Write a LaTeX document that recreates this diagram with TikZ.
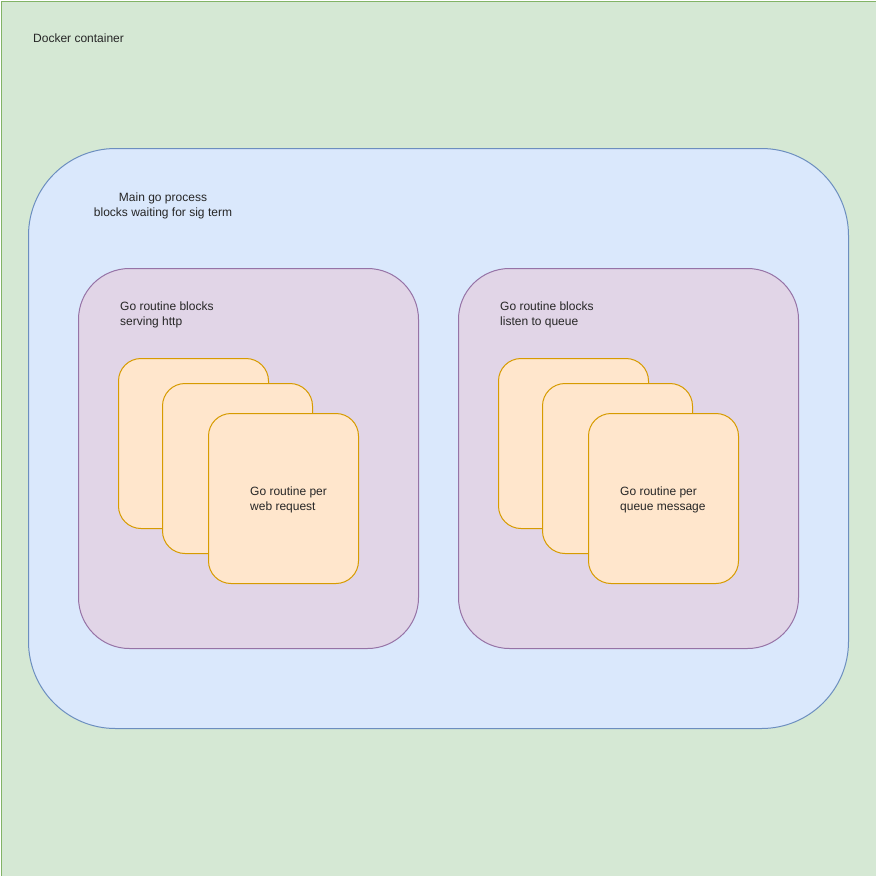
\documentclass[tikz,border=0pt]{standalone}
\usepackage{fontspec}
\setmainfont{Liberation Sans}
\definecolor{dockerfill}{HTML}{D5E8D4}
\definecolor{dockerline}{HTML}{82B366}
\definecolor{mainfill}{HTML}{DAE8FC}
\definecolor{mainline}{HTML}{6C8EBF}
\definecolor{blockfill}{HTML}{E1D5E7}
\definecolor{blockline}{HTML}{9673A6}
\definecolor{routinefill}{HTML}{FFE6CC}
\definecolor{routineline}{HTML}{D79B00}
\begin{document}
\begin{tikzpicture}[x=1pt,y=-1pt,
    box/.style={rectangle,draw,line width=1pt,inner sep=0pt,anchor=north west},
    blockbox/.style={box,fill=blockfill,draw=blockline,minimum width=340,minimum height=380,rounded corners=51},
    routinebox/.style={box,fill=routinefill,draw=routineline,minimum width=150,minimum height=170,rounded corners=22.5},
    label/.style={inner sep=0pt,anchor=north west,align=left,text=black!85,font=\fontsize{12}{14.5}\selectfont}]
    \useasboundingbox (0,0) rectangle (876,876);
    %% docker container
    \node[box,fill=dockerfill,draw=dockerline,minimum width=875,minimum height=875] (docker) at (0.5,0.5) {};
    \node[label] (dockerlabel) at (33,34) {Docker container};
    %% main process
    \node[box,fill=mainfill,draw=mainline,minimum width=820,minimum height=580,rounded corners=87] (main) at (28,148) {};
    \node[label,anchor=north,align=center] (mainlabel) at (163,193) {Main go process\\blocks waiting for sig term};
    %% http routines
    \begin{scope}
        \node[blockbox] (http) at (78,268) {};
        \node[label] (httplabel) at (120,302) {Go routine blocks\\serving http};
        \node[routinebox] (webA) at (118,358) {};
        \node[routinebox] (webB) at (162,383) {};
        \node[routinebox] (webC) at (208,413) {};
        \node[label] (weblabel) at (250,487) {Go routine per\\web request};
    \end{scope}
    %% queue routines
    \begin{scope}
        \node[blockbox] (queue) at (458,268) {};
        \node[label] (queuelabel) at (500,302) {Go routine blocks\\listen to queue};
        \node[routinebox] (msgA) at (498,358) {};
        \node[routinebox] (msgB) at (542,383) {};
        \node[routinebox] (msgC) at (588,413) {};
        \node[label] (msglabel) at (620,487) {Go routine per\\queue message};
    \end{scope}
\end{tikzpicture}
\end{document}
